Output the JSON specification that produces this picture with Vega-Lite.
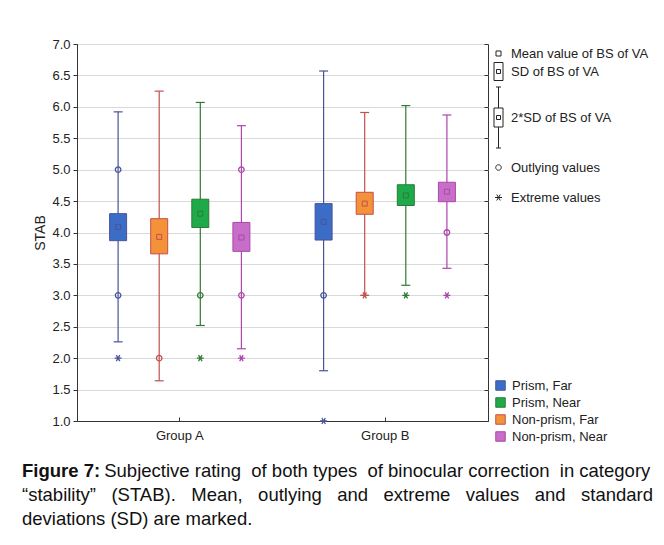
{
  "$schema": "https://vega.github.io/schema/vega-lite/v6.json",
  "width": 411,
  "height": 377,
  "autosize": {"type": "none"},
  "padding": {"left": 77, "top": 44, "right": 176, "bottom": 124},
  "background": "white",
  "config": {
    "font": "Liberation Sans",
    "view": {"stroke": "#333", "strokeWidth": 1},
    "axis": {"labelFont": "Liberation Sans", "titleFont": "Liberation Sans", "labelColor": "#222", "titleColor": "#222", "domainColor": "#333", "tickColor": "#333"},
    "legend": {"labelFont": "Liberation Sans", "labelColor": "#222"}
  },
  "title": {
    "text": "Figure 7:",
    "subtitle": ["\u200b\u00a0\u00a0\u00a0\u00a0\u00a0\u00a0\u00a0\u00a0\u00a0\u00a0\u00a0\u00a0\u00a0\u00a0\u00a0\u00a0Subjective rating\u00a0\u00a0of both types\u00a0\u00a0of binocular correction\u00a0\u00a0in category", "“stability”\u00a0\u00a0\u00a0(STAB).\u00a0\u00a0\u00a0Mean,\u00a0\u00a0\u00a0outlying\u00a0\u00a0\u00a0and\u00a0\u00a0\u00a0extreme\u00a0\u00a0\u00a0values\u00a0\u00a0\u00a0and\u00a0\u00a0\u00a0standard", "deviations (SD) are marked."],
    "orient": "bottom",
    "anchor": "start",
    "frame": "group",
    "dx": -55,
    "offset": 18,
    "font": "Liberation Sans",
    "fontSize": 18.5,
    "fontWeight": "bold",
    "color": "#111",
    "subtitleFont": "Liberation Sans",
    "subtitleFontSize": 18.5,
    "subtitleColor": "#111",
    "subtitleLineHeight": 24,
    "subtitlePadding": -18.5
  },
  "datasets": {
    "summary": [
      {"group": "Group A", "series": "Prism, Far", "lo2": 2.26, "sdlo": 3.87, "mean": 4.09, "sdhi": 4.30, "hi2": 5.92},
      {"group": "Group A", "series": "Non-prism, Far", "lo2": 1.64, "sdlo": 3.66, "mean": 3.93, "sdhi": 4.22, "hi2": 6.25},
      {"group": "Group A", "series": "Prism, Near", "lo2": 2.52, "sdlo": 4.08, "mean": 4.30, "sdhi": 4.53, "hi2": 6.07},
      {"group": "Group A", "series": "Non-prism, Near", "lo2": 2.15, "sdlo": 3.70, "mean": 3.92, "sdhi": 4.16, "hi2": 5.70},
      {"group": "Group B", "series": "Prism, Far", "lo2": 1.80, "sdlo": 3.88, "mean": 4.17, "sdhi": 4.46, "hi2": 6.57},
      {"group": "Group B", "series": "Non-prism, Far", "lo2": 3.00, "sdlo": 4.29, "mean": 4.46, "sdhi": 4.64, "hi2": 5.91},
      {"group": "Group B", "series": "Prism, Near", "lo2": 3.16, "sdlo": 4.43, "mean": 4.59, "sdhi": 4.76, "hi2": 6.02},
      {"group": "Group B", "series": "Non-prism, Near", "lo2": 3.43, "sdlo": 4.49, "mean": 4.65, "sdhi": 4.80, "hi2": 5.87}
    ],
    "points": [
      {"group": "Group A", "series": "Prism, Far", "value": 5.0, "kind": "Outlying values"},
      {"group": "Group A", "series": "Prism, Far", "value": 3.0, "kind": "Outlying values"},
      {"group": "Group A", "series": "Prism, Far", "value": 2.0, "kind": "Extreme values"},
      {"group": "Group A", "series": "Non-prism, Far", "value": 2.0, "kind": "Outlying values"},
      {"group": "Group A", "series": "Prism, Near", "value": 3.0, "kind": "Outlying values"},
      {"group": "Group A", "series": "Prism, Near", "value": 2.0, "kind": "Extreme values"},
      {"group": "Group A", "series": "Non-prism, Near", "value": 5.0, "kind": "Outlying values"},
      {"group": "Group A", "series": "Non-prism, Near", "value": 3.0, "kind": "Outlying values"},
      {"group": "Group A", "series": "Non-prism, Near", "value": 2.0, "kind": "Extreme values"},
      {"group": "Group B", "series": "Prism, Far", "value": 3.0, "kind": "Outlying values"},
      {"group": "Group B", "series": "Prism, Far", "value": 1.0, "kind": "Extreme values"},
      {"group": "Group B", "series": "Non-prism, Far", "value": 3.0, "kind": "Extreme values"},
      {"group": "Group B", "series": "Prism, Near", "value": 3.0, "kind": "Extreme values"},
      {"group": "Group B", "series": "Non-prism, Near", "value": 4.0, "kind": "Outlying values"},
      {"group": "Group B", "series": "Non-prism, Near", "value": 3.0, "kind": "Extreme values"}
    ]
  },
  "resolve": {"axis": {"y": "independent"}},
  "encoding": {
    "x": {"field": "group", "type": "nominal", "scale": {"paddingInner": 0, "paddingOuter": 0}, "axis": {"title": null, "labelAngle": 0, "labelFontSize": 13, "labelPadding": 12, "tickSize": -4, "domainColor": "#333"}},
    "xOffset": {"field": "series", "type": "nominal", "scale": {"domain": ["Prism, Far", "Non-prism, Far", "Prism, Near", "Non-prism, Near"], "paddingInner": 0, "paddingOuter": 0.5}},
    "stroke": {"field": "series", "type": "nominal", "scale": {"domain": ["Prism, Far", "Prism, Near", "Non-prism, Far", "Non-prism, Near"], "range": ["#4a5398", "#2f7a35", "#c0504d", "#ac46ac"]}, "legend": {"orient": "none", "legendX": 417, "legendY": 335, "title": null, "symbolType": "square", "symbolSize": 90, "symbolStrokeWidth": 1, "labelFontSize": 13, "rowPadding": 2, "labelOffset": 5}}
  },
  "layer": [
    {
      "data": {"name": "summary"},
      "mark": {"type": "rule", "strokeWidth": 1.2},
      "encoding": {
        "y": {"field": "lo2", "type": "quantitative", "scale": {"domain": [1, 7], "nice": false, "zero": false}, "axis": {"title": "STAB", "titleFontSize": 14, "titleFontWeight": "normal", "titlePadding": 4, "labelFontSize": 13, "labelPadding": 3, "labelOverlap": false, "values": [1, 1.5, 2, 2.5, 3, 3.5, 4, 4.5, 5, 5.5, 6, 6.5, 7], "format": ".1f", "tickSize": 4, "gridColor": "#d9d9d9", "grid": true}},
        "y2": {"field": "hi2"}
      }
    },
    {
      "data": {"name": "summary"},
      "mark": {"type": "point", "shape": "M-1,0H1", "size": 81, "filled": false, "strokeWidth": 1.2, "opacity": 1},
      "encoding": {
        "y": {"field": "lo2", "type": "quantitative", "axis": {"orient": "right", "title": null, "labels": false, "domain": false, "grid": false, "tickSize": -4, "values": [1, 1.5, 2, 2.5, 3, 3.5, 4, 4.5, 5, 5.5, 6, 6.5, 7]}}
      }
    },
    {
      "data": {"name": "summary"},
      "mark": {"type": "point", "shape": "M-1,0H1", "size": 81, "filled": false, "strokeWidth": 1.2, "opacity": 1},
      "encoding": {
        "y": {"field": "hi2", "type": "quantitative", "axis": null}
      }
    },
    {
      "data": {"name": "summary"},
      "mark": {"type": "bar", "width": 17, "strokeWidth": 1},
      "encoding": {
        "y": {"field": "sdlo", "type": "quantitative", "axis": null},
        "y2": {"field": "sdhi"},
        "fill": {"field": "series", "type": "nominal", "scale": {"domain": ["Prism, Far", "Prism, Near", "Non-prism, Far", "Non-prism, Near"], "range": ["#3b6dc6", "#1eaa4a", "#f4923a", "#c76fc8"]}, "legend": {"orient": "none", "legendX": 417, "legendY": 335, "title": null, "symbolType": "square", "symbolSize": 90, "symbolStrokeWidth": 1, "labelFontSize": 13, "rowPadding": 2, "labelOffset": 5}}
      }
    },
    {
      "data": {"name": "summary"},
      "mark": {"type": "point", "shape": "square", "size": 25, "filled": false, "strokeWidth": 1, "opacity": 1},
      "encoding": {
        "y": {"field": "mean", "type": "quantitative", "axis": null}
      }
    },
    {
      "data": {"name": "points"},
      "mark": {"type": "point", "size": 100, "filled": false, "strokeWidth": 1.3, "opacity": 1},
      "encoding": {
        "y": {"field": "value", "type": "quantitative", "axis": null},
        "shape": {"field": "kind", "type": "nominal",
          "scale": {"domain": ["Mean value of BS of  VA", "SD of BS of VA", "2*SD of BS of VA", "Outlying values", "Extreme values"],
            "range": ["M-0.5,-0.5H0.5V0.5H-0.5Z", "M-0.9,-1.8H0.9V1.8H-0.9ZM-0.4,-0.4H0.4V0.4H-0.4Z", "M0,-6.1V-1.9M0,1.9V6.1M-0.5,-6.1H0.5M-0.5,6.1H0.5M-0.9,-1.9H0.9V1.9H-0.9ZM-0.4,-0.4H0.4V0.4H-0.4ZM0,-6.7M0,6.7", "M0,-2.7M0.55,0A0.55,0.55 0 1,1 -0.55,0A0.55,0.55 0 1,1 0.55,0ZM0,2.7", "M0,-2.7M-0.7,0H0.7M-0.35,-0.6L0.35,0.6M-0.35,0.6L0.35,-0.6M0,2.7"]},
          "legend": {"orient": "none", "legendX": 415, "legendY": 3, "title": null, "symbolSize": 100, "symbolStrokeColor": "#222", "symbolFillColor": "transparent", "symbolStrokeWidth": 1, "labelOffset": 6, "labelFontSize": 13, "rowPadding": -1}}
      }
    }
  ]
}
